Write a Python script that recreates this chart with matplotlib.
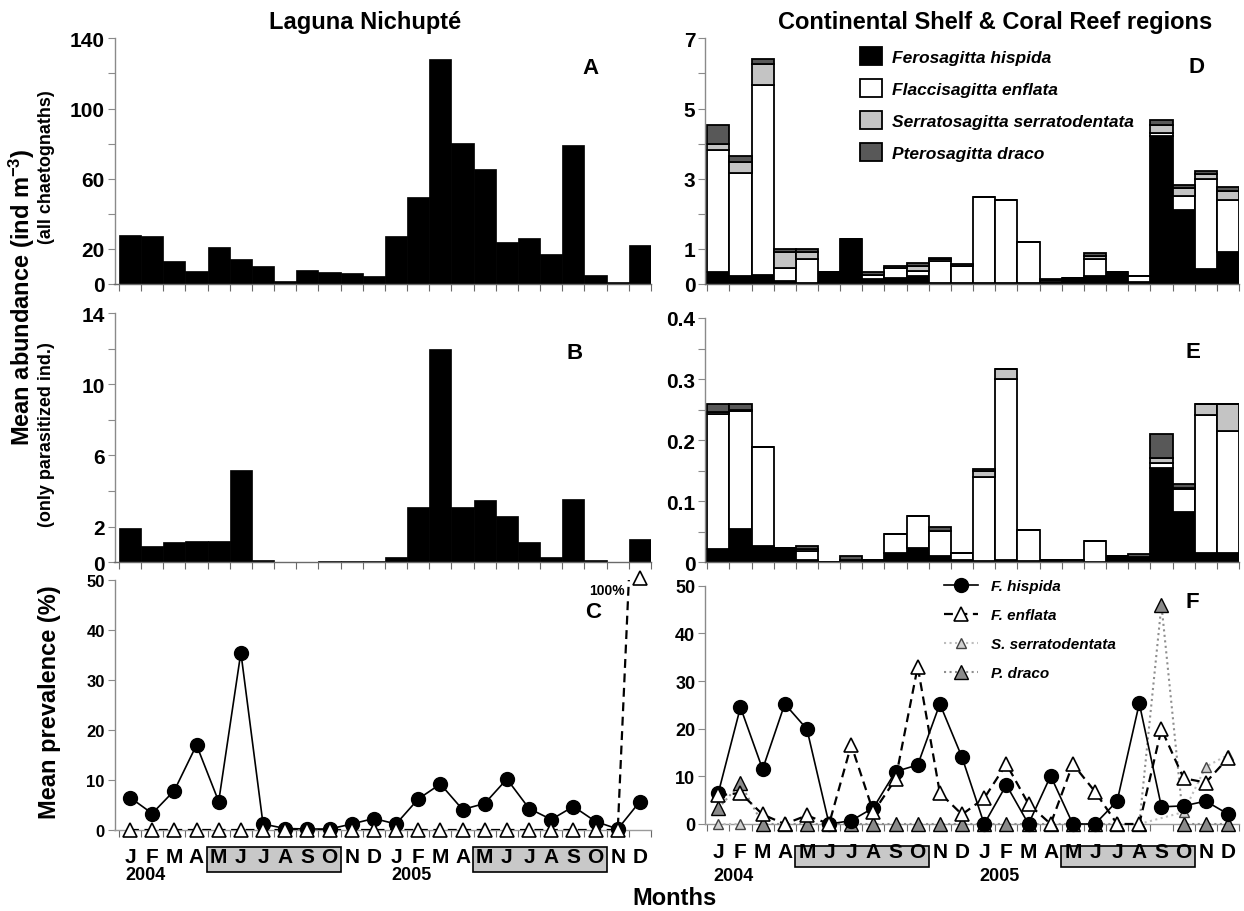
import numpy as np
import matplotlib
matplotlib.use('Agg')
import matplotlib.pyplot as plt
import matplotlib.transforms as mtransforms
from matplotlib.patches import Rectangle, Patch
from matplotlib.lines import Line2D

plt.rcParams['font.family'] = ['Liberation Sans', 'DejaVu Sans']
plt.rcParams['mathtext.fontset'] = 'custom'
plt.rcParams['mathtext.rm'] = 'Liberation Sans'
plt.rcParams['mathtext.bf'] = 'Liberation Sans:bold'
plt.rcParams['mathtext.it'] = 'Liberation Sans:italic'
plt.rcParams['mathtext.default'] = 'bf'

# ---------------- data ----------------
months = list("JFMAMJJASOND") * 2
years = ['2004', '2005']
year_start = [0, 12]
highlight = [(4, 9), (16, 21)]   # May-Oct blocks

# Panel A: Laguna Nichupte, all chaetognaths
lag_all = [28.1, 27.2, 13.1, 7.2, 21.1, 14.2, 10.1, 1.9, 8.2, 7.0, 6.1, 4.4,
           27.4, 49.4, 128.2, 80.2, 65.3, 24.1, 26.2, 17.3, 79.4, 5.1, 1.1, 22.2]
# Panel B: Laguna, parasitized only
lag_par = [1.91, 0.92, 1.12, 1.22, 1.22, 5.17, 0.11, 0.0, 0.0, 0.05, 0.05, 0.05,
           0.32, 3.09, 11.98, 3.09, 3.48, 2.6, 1.12, 0.32, 3.57, 0.11, 0.04, 1.31]
# Panel C: Laguna prevalence (%)
lag_prev_hisp = [6.5, 3.3, 7.9, 17.0, 5.7, 35.5, 1.2, 0.3, 0.2, 0.2, 1.2, 2.3,
                 1.2, 6.2, 9.2, 4.1, 5.3, 10.2, 4.3, 2.1, 4.7, 1.7, 0.2, 5.7]
lag_prev_enfl = [0] * 23 + [100]

# Panel D: shelf/reef, all chaetognaths (stacked)
shelf_hisp = [0.35, 0.22, 0.26, 0.08, 0.02, 0.35, 1.27, 0.15, 0.16, 0.22, 0.04, 0.02,
              0.02, 0.02, 0.02, 0.03, 0.17, 0.24, 0.35, 0.05, 4.22, 2.12, 0.43, 0.92]
shelf_enfl = [3.46, 2.94, 5.41, 0.37, 0.68, 0.0, 0.0, 0.12, 0.29, 0.14, 0.61, 0.50,
              2.46, 2.37, 1.17, 0.03, 0.0, 0.47, 0.0, 0.17, 0.08, 0.38, 2.57, 1.46]
shelf_serr = [0.17, 0.31, 0.60, 0.47, 0.20, 0.0, 0.0, 0.0, 0.0, 0.16, 0.05, 0.0,
              0.0, 0.0, 0.0, 0.06, 0.0, 0.10, 0.0, 0.0, 0.22, 0.23, 0.12, 0.26]
shelf_drac = [0.54, 0.19, 0.14, 0.08, 0.10, 0.0, 0.0, 0.06, 0.05, 0.08, 0.05, 0.06,
              0.0, 0.0, 0.0, 0.02, 0.0, 0.08, 0.0, 0.0, 0.15, 0.10, 0.10, 0.12]

# Panel E: shelf/reef, parasitized only (stacked)
par_hisp = [0.022, 0.055, 0.027, 0.023, 0.003, 0.0, 0.001, 0.004, 0.016, 0.023, 0.011, 0.004,
            0.002, 0.004, 0.002, 0.004, 0.0, 0.001, 0.011, 0.008, 0.155, 0.082, 0.015, 0.015]
par_enfl = [0.220, 0.192, 0.161, 0.0, 0.015, 0.0, 0.0, 0.0, 0.030, 0.053, 0.040, 0.011,
            0.138, 0.296, 0.051, 0.0, 0.0, 0.034, 0.0, 0.0, 0.008, 0.038, 0.226, 0.200]
par_serr = [0.004, 0.002, 0.0, 0.0, 0.004, 0.0, 0.003, 0.0, 0.0, 0.0, 0.0, 0.0,
            0.010, 0.016, 0.0, 0.0, 0.003, 0.0, 0.0, 0.0, 0.008, 0.002, 0.018, 0.044]
par_drac = [0.014, 0.011, 0.0, 0.0, 0.005, 0.0, 0.006, 0.0, 0.0, 0.0, 0.006, 0.0,
            0.002, 0.0, 0.0, 0.0, 0.0, 0.0, 0.0, 0.006, 0.039, 0.006, 0.0, 0.0]

# Panel F: shelf/reef prevalence (%)
prev_hisp = [6.5, 24.5, 11.5, 25.2, 19.9, 0.0, 0.7, 3.4, 11.0, 12.4, 25.2, 14.0,
             0.0, 8.2, 0.0, 10.1, 0.0, 0.0, 4.8, 25.3, 3.6, 3.8, 4.8, 2.1]
prev_enfl = [6.0, 6.5, 2.0, 0.0, 1.8, 0.0, 16.6, 2.5, 9.4, 33.0, 6.5, 2.0,
             5.4, 12.6, 4.2, 0.0, 12.6, 6.8, 0.0, 0.0, 19.9, 9.6, 8.7, 13.8]
prev_serr = [0.0, 0.0, np.nan, np.nan, np.nan, np.nan, np.nan, np.nan, np.nan, np.nan, np.nan, np.nan,
             np.nan, np.nan, np.nan, np.nan, np.nan, np.nan, np.nan, 0.0, np.nan, 2.5, 12.0, 14.5]
prev_drac = [3.3, 8.5, 0, 0, 0, 0, 0, 0, 0, 0, 0, 0,
             0, 0, 0, 0, 0, 0, 0, 0, 46.0, 0, 0, 0]

species = ['Ferosagitta hispida', 'Flaccisagitta enflata',
           'Serratosagitta serratodentata', 'Pterosagitta draco']
species_short = ['F. hispida', 'F. enflata', 'S. serratodentata', 'P. draco']
stack_colors = ['black', 'white', '#c4c4c4', '#585858']

# ---------------- layout ----------------
W, H = 1244, 912
fig = plt.figure(figsize=(W / 100, H / 100), dpi=100)


def ax_px(x0, x1, yt, yb):
    return fig.add_axes([x0 / W, 1 - yb / H, (x1 - x0) / W, (yb - yt) / H])


axA = ax_px(114.5, 651, 39.3, 285)
axB = ax_px(114.5, 651, 314, 563.3)
axC = ax_px(114.5, 651, 581, 831)
axD = ax_px(705, 1239, 39.3, 285)
axE = ax_px(705, 1239, 319, 563.3)
axF = ax_px(705, 1239, 586.7, 825)

x = np.arange(24)


def style(ax, xleft, ylim, yticks, ylabels, fs):
    ax.set_xlim(xleft, 23.5)
    ax.set_ylim(*ylim)
    for s in ['top', 'right']:
        ax.spines[s].set_visible(False)
    ax.spines['left'].set_color('#8a8a8a')
    ax.spines['left'].set_linewidth(1.0)
    ax.spines['bottom'].set_color('#6a6a6a')
    ax.spines['bottom'].set_linewidth(1.0)
    ax.set_yticks(yticks)
    ax.set_yticklabels(ylabels, fontsize=fs, fontweight='bold')
    ax.tick_params(axis='y', length=5, color='#8a8a8a', pad=2)
    ax.set_xticks(np.arange(-0.5, 24, 1))
    ax.set_xticklabels([])
    ax.tick_params(axis='x', length=5, color='#6a6a6a', direction='out')


def lab(vals, shown):
    return [(('%g' % v) if v in shown else '') for v in vals]


tA = [0, 20, 40, 60, 80, 100, 120, 140]
style(axA, -0.7, (0, 140), tA, lab(tA, [0, 20, 60, 100, 140]), 15)
tB = [0, 2, 4, 6, 8, 10, 12, 14]
style(axB, -0.7, (0, 14), tB, lab(tB, [0, 2, 6, 10, 14]), 15)
tC = [0, 10, 20, 30, 40, 50]
style(axC, -0.7, (0, 50), tC, [str(t) for t in tC], 12)
tD = [0, 1, 2, 3, 4, 5, 6, 7]
style(axD, -0.6, (0, 7), tD, lab(tD, [0, 1, 3, 5, 7]), 15)
tE = [0, 0.05, 0.1, 0.15, 0.2, 0.25, 0.3, 0.35, 0.4]
style(axE, -0.6, (0, 0.4), tE, lab(tE, [0, 0.1, 0.2, 0.3, 0.4]), 15)
tF = [0, 10, 20, 30, 40, 50]
style(axF, -0.6, (0, 50), tF, [str(t) for t in tF], 13)
for ax in (axC, axF):
    ax.spines['bottom'].set_color('#9a9a9a')

# ---------------- bars ----------------
axA.bar(x, lag_all, width=1.0, color='black', edgecolor='black', linewidth=0.5)
axB.bar(x, lag_par, width=1.0, color='black', edgecolor='black', linewidth=0.5)


def stacked(ax, series):
    bottom = np.zeros(24)
    for vals, col in zip(series, stack_colors):
        v = np.array(vals, dtype=float)
        ax.bar(x, v, bottom=bottom, width=1.0, color=col, edgecolor='black', linewidth=1.3)
        bottom = bottom + v


stacked(axD, [shelf_hisp, shelf_enfl, shelf_serr, shelf_drac])
stacked(axE, [par_hisp, par_enfl, par_serr, par_drac])

# ---------------- prevalence lines ----------------
st_hisp = dict(color='black', lw=1.2, marker='o', ms=10, mfc='black', mec='black')
st_enfl = dict(color='black', lw=1.6, ls=(0, (4, 2.5)), marker='^', ms=10, mfc='white', mec='black', mew=1.2)
st_serr = dict(color='#bdbdbd', lw=1.5, ls=':', marker='^', ms=6.5, mfc='#d0d0d0', mec='#444444', mew=1.0)
st_drac = dict(color='#8e8e8e', lw=1.5, ls=':', marker='^', ms=9.5, mfc='#8a8a8a', mec='black', mew=1.0)

# C
ymaxC = axC.get_ylim()[1]
enflC = np.array(lag_prev_enfl, dtype=float)
axC.plot(x, enflC, color='black', lw=1.6, ls=(0, (4, 2.5)), zorder=3)
axC.plot(x, np.minimum(enflC, ymaxC + 0.4), ls='none', marker='^', ms=10, mfc='white',
         mec='black', mew=1.2, clip_on=False, zorder=5)
axC.plot(x, lag_prev_hisp, clip_on=False, zorder=4, **st_hisp)
axC.text(x[-1] - 1.5, 48, '100%', fontsize=10, fontweight='bold', ha='center', va='center')

# F
axF.plot(x, prev_drac, clip_on=False, zorder=3, **st_drac)
serr = np.array(prev_serr, dtype=float)
for s in year_start:
    xs = x[s:s + 12]
    ys = serr[s:s + 12]
    m = ~np.isnan(ys)
    axF.plot(xs[m], ys[m], clip_on=False, zorder=3.5, **st_serr)
axF.plot(x, prev_hisp, clip_on=False, zorder=4, **st_hisp)
axF.plot(x, prev_enfl, clip_on=False, zorder=5, **st_enfl)

# ---------------- month labels, year labels, boxes ----------------


def month_axis(ax, y_month, y_year, box_top, box_bot):
    tr = mtransforms.blended_transform_factory(ax.transData, fig.transFigure)
    for (a, b) in highlight:
        r = Rectangle((a - 0.55, 1 - box_bot / H), (b - a) + 1.05, (box_bot - box_top) / H,
                      transform=tr, facecolor='#c8c8c8', edgecolor='black', lw=1.2,
                      clip_on=False, zorder=1)
        ax.add_patch(r)
    for i, mname in enumerate(months):
        ax.text(x[i], 1 - y_month / H, mname, transform=tr, ha='center', va='center',
                fontsize=15, fontweight='bold', zorder=6, clip_on=False)
    for yr, s in zip(years, year_start):
        ax.text(x[s] - 0.2, 1 - y_year / H, yr, transform=tr, ha='left', va='center',
                fontsize=13, fontweight='bold', clip_on=False)


month_axis(axC, 858, 876, 848, 873)
month_axis(axF, 853, 877, 847, 868)

# ---------------- legends ----------------
hD = [Patch(facecolor=c, edgecolor='black', linewidth=1.3) for c in stack_colors]
legD = fig.legend(hD, species, loc='upper left', bbox_to_anchor=(860 / W, 1 - 48 / H),
                  frameon=False, borderpad=0, borderaxespad=0, handlelength=1.25,
                  handleheight=1.25, handletextpad=0.6, labelspacing=0.78,
                  prop=dict(size=12.5, weight='bold', style='italic'))

hF = [Line2D([], [], **st_hisp), Line2D([], [], **st_enfl),
      Line2D([], [], **st_serr), Line2D([], [], **st_drac)]
legF = fig.legend(hF, species_short, loc='upper left', bbox_to_anchor=(944 / W, 1 - 580 / H),
                  frameon=False, borderpad=0, borderaxespad=0, handlelength=2.2,
                  handletextpad=0.9, labelspacing=0.98,
                  prop=dict(size=11, weight='bold', style='italic'))

# ---------------- texts ----------------
fig.text(365 / W, 1 - 23 / H, 'Laguna Nichupté', ha='center', va='center', fontsize=17, fontweight='bold')
fig.text(995 / W, 1 - 22 / H, 'Continental Shelf & Coral Reef regions', ha='center', va='center',
         fontsize=17, fontweight='bold')
fig.text(22 / W, 1 - 297 / H, 'Mean abundance (ind m$^{-3}$)', rotation=90, ha='center', va='center',
         fontsize=17, fontweight='bold')
fig.text(47 / W, 1 - 167 / H, '(all chaetognaths)', rotation=90, ha='center', va='center',
         fontsize=13, fontweight='bold')
fig.text(47 / W, 1 - 435 / H, '(only parasitized ind.)', rotation=90, ha='center', va='center',
         fontsize=13, fontweight='bold')
fig.text(50 / W, 1 - 702 / H, 'Mean prevalence (%)', rotation=90, ha='center', va='center',
         fontsize=17, fontweight='bold')
fig.text(675 / W, 1 - 899 / H, 'Months', ha='center', va='center', fontsize=17, fontweight='bold')

for ax, letter, (px, py) in [(axA, 'A', (0.888, 0.883)), (axB, 'B', (0.858, 0.843)),
                             (axC, 'C', (0.892, 0.876)), (axD, 'D', (0.921, 0.887)),
                             (axE, 'E', (0.914, 0.861)), (axF, 'F', (0.912, 0.932))]:
    ax.text(px, py, letter, transform=ax.transAxes, ha='center', va='center',
            fontsize=16, fontweight='bold')

fig.savefig('out.png', dpi=100)
